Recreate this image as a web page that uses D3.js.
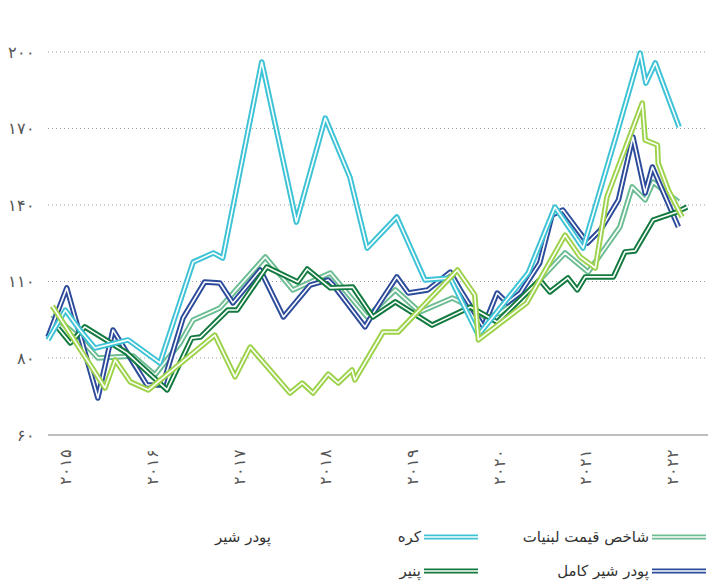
<!DOCTYPE html>
<html>
<head>
<meta charset="utf-8">
<script src="https://cdn.jsdelivr.net/npm/d3@7"></script>
<style>
  body { margin: 0; background: #fff; }
  svg { display: block; font-family: "DejaVu Sans", sans-serif; }
</style>
</head>
<body>
<script>
// months are counted from January 2015 (0 = Jan 2015)
const years = [2015, 2016, 2017, 2018, 2019, 2020, 2021, 2022];
const yTicks = [60, 80, 110, 140, 170, 200];

// شاخص قیمت لبنیات
const dairyIndex = [[4.2,96.9],[8.0,87.8],[10.5,80.0],[15.4,80.8],[18.4,75.6],[21.9,85.9],[23.7,94.9],[27.4,99.6],[33.7,119.6],[37.5,106.7],[42.7,113.3],[47.8,96.1],[51.7,106.7],[55.1,98.0],[59.6,103.5],[62.1,100.0],[64.1,96.1],[66.2,97.6],[70.4,106.7],[75.2,121.2],[78.4,113.7],[82.8,131.4],[84.5,147.1],[86.3,142.0],[87.4,149.0],[90.9,141.2]];
// کره
const butter = [[3.6,87.1],[6.0,98.8],[8.0,91.0],[10.1,83.9],[14.7,87.1],[19.1,78.7],[23.7,117.6],[26.5,121.2],[27.8,119.2],[33.2,196.1],[38.0,133.3],[42.0,174.1],[45.4,151.0],[47.8,123.1],[51.9,135.3],[55.8,110.6],[59.3,111.4],[63.2,89.0],[70.1,113.3],[73.8,139.2],[77.7,123.1],[82.4,168.2],[85.6,199.6],[86.4,187.8],[87.7,195.7],[91.0,170.6]];
// پودر شیر
const skimPowder = [[4.2,100.4],[11.5,72.2],[12.9,79.5],[15.0,73.8],[17.5,71.7],[26.7,89.0],[29.5,75.1],[31.6,84.3],[37.1,70.9],[38.8,73.5],[40.3,70.9],[42.4,75.8],[43.8,73.5],[45.7,76.9],[46.1,74.3],[50.0,90.2],[52.1,90.2],[60.3,114.5],[62.7,104.7],[63.2,87.1],[69.9,101.6],[75.2,128.2],[77.3,119.6],[79.4,115.3],[81.0,143.1],[85.9,180.0],[86.3,165.5],[88.0,163.5],[88.1,156.5],[89.5,145.9],[91.4,135.3]];
// پودر شیر کامل
const wholePowder = [[3.6,88.2],[6.2,107.5],[10.5,69.6],[12.6,91.0],[17.3,73.0],[19.5,73.0],[22.3,95.7],[25.3,109.8],[27.4,109.4],[29.2,101.6],[33.0,114.5],[36.2,96.1],[39.9,108.6],[42.4,110.6],[43.1,108.6],[47.5,92.2],[48.9,98.8],[51.9,111.8],[53.5,105.5],[56.2,106.7],[59.3,113.7],[60.7,106.7],[63.9,92.2],[65.8,105.5],[67.2,101.6],[69.0,105.5],[71.7,117.3],[73.4,136.1],[74.9,138.0],[78.3,125.1],[80.1,130.2],[82.6,142.0],[84.6,166.7],[86.3,144.7],[87.3,154.9],[90.9,131.4]];
// پنیر
const cheese = [[5.0,91.8],[6.7,85.9],[8.7,92.2],[14.5,82.0],[20.1,71.7],[23.5,87.8],[24.7,88.2],[28.5,98.8],[29.8,98.8],[33.9,115.7],[38.2,109.8],[39.5,114.9],[42.7,107.5],[45.8,107.8],[48.6,96.1],[51.7,102.0],[56.8,92.9],[62.1,100.0],[65.8,94.1],[71.7,110.6],[73.1,105.9],[75.6,111.4],[76.9,106.7],[78.0,111.8],[81.9,111.8],[83.5,121.6],[84.9,122.0],[87.4,134.1],[90.7,137.3],[92.1,139.2]];

const names = ["شاخص قیمت لبنیات", "کره", "پودر شیر", "پودر شیر کامل", "پنیر"];
const colors = ["#6cbd93", "#3dc3d5", "#9dd24b", "#2d4b9b", "#127a3f"];

const width = 708, height = 581;
const margin = { left: 48, right: 708, top: 52, bottom: 435 };

const toFa = d => String(d).replace(/\d/g, c => "۰۱۲۳۴۵۶۷۸۹"[c]);

const svg = d3.select("body").append("svg")
    .attr("width", width)
    .attr("height", height);

const x = d3.scaleLinear().domain([3.6, 95]).range([margin.left, margin.right]);
// the axis is spaced evenly per tick, so the first interval is stretched
const y = d3.scaleLinear().domain([60, 80, 200]).range([margin.bottom, 358, margin.top]);

// grid lines
svg.append("g")
    .selectAll("line")
    .data(yTicks.slice(1))
    .enter()
    .append("line")
    .attr("x1", margin.left)
    .attr("x2", margin.right)
    .attr("y1", d => y(d))
    .attr("y2", d => y(d))
    .attr("stroke", "#a0a0a0")
    .attr("stroke-width", 1)
    .attr("stroke-dasharray", "1,3");

svg.append("line")
    .attr("x1", margin.left)
    .attr("x2", margin.right)
    .attr("y1", y(60))
    .attr("y2", y(60))
    .attr("stroke", "#a8a8a8")
    .attr("stroke-width", 1.5);

// y axis
const yAxis = svg.append("g")
    .attr("transform", `translate(${margin.left - 10},0)`)
    .call(d3.axisLeft(y).tickValues(yTicks).tickFormat(toFa).tickSize(0));
yAxis.select(".domain").remove();
yAxis.selectAll("text")
    .attr("fill", "#555")
    .style("font-size", "16px");

// x axis (year labels, rotated)
const xAxis = svg.append("g")
    .attr("transform", `translate(0,${margin.bottom})`)
    .call(d3.axisBottom(x).tickValues(years.map(yr => (yr - 2015) * 12 + 6)).tickSize(0)
        .tickFormat(m => toFa(2015 + Math.floor(m / 12))));
xAxis.select(".domain").remove();
xAxis.selectAll("text")
    .attr("transform", "rotate(-90)")
    .attr("x", -14)
    .attr("y", 0)
    .attr("dy", "0.35em")
    .attr("text-anchor", "end")
    .attr("fill", "#555")
    .style("font-size", "16px");

// lines, each drawn as a coloured stroke with a thin white core
const line = d3.line().x(d => x(d[0])).y(d => y(d[1]));
const drawOrder = [
    { data: dairyIndex, i: 0 },
    { data: wholePowder, i: 3 },
    { data: cheese, i: 4 },
    { data: butter, i: 1 },
    { data: skimPowder, i: 2 }
];
drawOrder.forEach(s => {
    svg.append("path")
        .attr("d", line(s.data))
        .attr("fill", "none")
        .attr("stroke", colors[s.i])
        .attr("stroke-width", 5.5)
        .attr("stroke-linejoin", "round");
    svg.append("path")
        .attr("d", line(s.data))
        .attr("fill", "none")
        .attr("stroke", "#fff")
        .attr("stroke-width", 1.6)
        .attr("stroke-linejoin", "round");
});

// legend (right to left)
const legendItems = [
    { i: 0, lx: 652, ly: 537, swatch: true },
    { i: 1, lx: 424, ly: 537, swatch: true },
    { i: 2, lx: 274, ly: 537, swatch: false },
    { i: 3, lx: 652, ly: 571, swatch: true },
    { i: 4, lx: 424, ly: 571, swatch: true }
];
const legend = svg.append("g");
legendItems.forEach(d => {
    if (d.swatch) {
        legend.append("line")
            .attr("x1", d.lx).attr("x2", d.lx + 54)
            .attr("y1", d.ly).attr("y2", d.ly)
            .attr("stroke", colors[d.i])
            .attr("stroke-width", 5);
        legend.append("line")
            .attr("x1", d.lx).attr("x2", d.lx + 54)
            .attr("y1", d.ly).attr("y2", d.ly)
            .attr("stroke", "#fff")
            .attr("stroke-width", 1.4);
    }
    legend.append("text")
        .attr("x", d.lx - 3)
        .attr("y", d.ly)
        .attr("dy", "0.35em")
        .attr("text-anchor", "end")
        .attr("fill", "#333")
        .style("font-size", "15px")
        .text(names[d.i]);
});
</script>
</body>
</html>
